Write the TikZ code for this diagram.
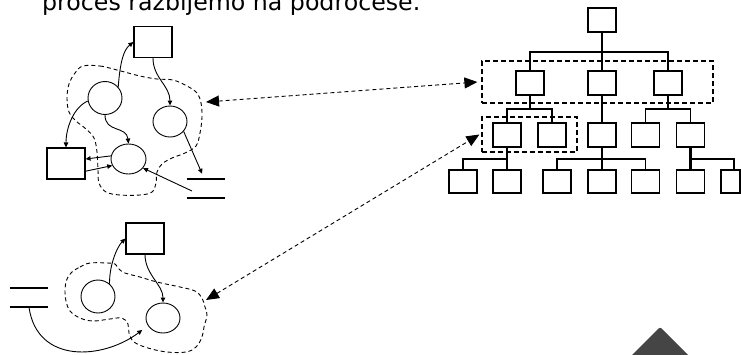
\documentclass[tikz,border=0pt]{standalone}
\usepackage{graphicx}
\usepackage{fontspec}
\setmainfont{DejaVu Sans}
\usetikzlibrary{shapes.geometric,arrows.meta,calc}
\definecolor{tri}{HTML}{454545}
\begin{document}
\begin{tikzpicture}[x=1pt,y=-1pt,
  sbox/.style={draw,line width=1.1pt,minimum width=38pt,minimum height=31pt,inner sep=0pt},
  proc/.style={draw,ellipse,line width=0.9pt,minimum width=34pt,minimum height=31pt,inner sep=0pt},
  storenode/.style={minimum width=38pt,minimum height=19pt,inner sep=0pt},
  storeline/.style={line width=1.8pt},
  flow/.style={line width=0.9pt,-{Triangle[length=5pt,width=4.5pt]}},
  blob/.style={line width=0.9pt,dash pattern=on 4pt off 3pt},
  link/.style={line width=0.9pt,dash pattern=on 4pt off 3pt,{Triangle[length=13pt,width=11pt]}-{Triangle[length=13pt,width=11pt]}},
  hbox/.style={draw,line width=1.2pt,minimum width=28pt,minimum height=24pt,inner sep=0pt},
  bus/.style={line width=1.3pt},
  trunk/.style={line width=2.6pt},
  group/.style={draw,line width=1.2pt,dash pattern=on 5pt off 3pt,inner sep=0pt}
]
\useasboundingbox (0,0) rectangle (741,354);
\clip (0,0) rectangle (741,354);

% title
\node[anchor=base west,inner sep=0pt] (title) at (42,10) {\resizebox{378pt}{!}{proces razbijemo na podrocese.}};

% ---------- upper left diagram ----------
\node[sbox] (tb) at (153,42) {};
\node[sbox] (lb) at (66,163.5) {};
\node[proc,minimum height=33pt] (A) at (105,98) {};
\node[proc] (B) at (170,121.5) {};
\node[proc,minimum width=35pt,minimum height=30pt] (C) at (128.5,159) {};
\node[storenode] (st1) at (206,188.5) {};
\draw[storeline] (st1.north west) -- (st1.north east) (st1.south west) -- (st1.south east);

\draw[flow] (A.40) .. controls +(2,-25) and +(-10,8) .. (tb.west);
\draw[flow] (tb.south) .. controls +(0,20) and +(0,-20) .. (B.north);
\draw[flow] (A.190) .. controls +(-14,6) and +(0,-20) .. (lb.north);
\draw[flow] (A.south) .. controls +(0,18) and +(-2,-18) .. (C.north);
\draw[flow] (C.170) -- ($(lb.north east)!0.36!(lb.south east)$);
\draw[flow] ($(lb.north east)!0.74!(lb.south east)$) -- (C.202);
\coordinate (st1in) at (192,191);
\draw[flow] (st1in) -- (C.-32);
\draw[flow] (B.-36) -- ($(st1.north west)!0.4!(st1.north east)+(0,-5)$);

\draw[blob] plot[smooth cycle,tension=0.6] coordinates {
 (83,66) (100,66) (117,70) (140,76) (157,79) (173,80) (187,86) (197,93)
 (201,103) (202,117) (200,133) (196,146) (185,153) (172,158) (162,164)
 (157,172) (156,183) (152,192) (140,195) (120,195) (106,192) (99,183)
 (98,170) (97,152) (94,138) (86,129) (76,121) (69,112) (67,98) (69,84) (75,73)};

% ---------- lower left diagram ----------
\node[sbox] (tb2) at (145,238.5) {};
\node[proc,minimum height=33pt] (D) at (98,296.5) {};
\node[proc,minimum height=30pt] (E) at (163,318) {};
\node[storenode] (st2) at (29,297.5) {};
\draw[storeline] (st2.north west) -- (st2.north east) (st2.south west) -- (st2.south east);

\draw[flow] (D.48) .. controls +(0,-20) and +(-8,8) .. (tb2.west);
\draw[flow] (tb2.south) .. controls +(0,20) and +(0,-18) .. (E.north);
\draw[flow,shorten >=7pt] (st2.south) .. controls +(8,57) and +(-45,34) .. (E.207);

\draw[blob] plot[smooth cycle,tension=0.6] coordinates {
 (72,272) (80,267) (90,263) (107,263) (115,264) (119,269) (125,273)
 (140,277) (157,282) (180,287) (195,291) (202,298) (205,307) (207,315)
 (204,327) (202,337) (196,347) (186,352) (167,352) (148,348) (134,342)
 (129,333) (128,324) (122,318) (110,319) (93,321) (80,318) (70,311)
 (66,301) (65,289) (67,279)};

% ---------- hierarchy ----------
\node[hbox] (r) at (602,20) {};
\node[hbox] (h1) at (530,83) {};
\node[hbox] (h2) at (602,83) {};
\node[hbox] (h3) at (668,83) {};
\node[hbox] (h11) at (507,135) {};
\node[hbox] (h12) at (552,135) {};
\node[hbox] (h21) at (602,135) {};
\node[hbox] (h31) at (645.5,135) {};
\node[hbox] (h32) at (690.5,135) {};
\node[hbox,minimum height=23pt] (h111) at (463,181.5) {};
\node[hbox,minimum height=23pt] (h112) at (507,181.5) {};
\node[hbox,minimum height=23pt] (h211) at (557,181.5) {};
\node[hbox,minimum height=23pt] (h212) at (602,181.5) {};
\node[hbox,minimum height=23pt] (h213) at (645.5,181.5) {};
\node[hbox,minimum height=23pt] (h321) at (690.5,181.5) {};
\node[hbox,minimum height=23pt,minimum width=19pt] (h322) at (730.5,181.5) {};

\coordinate (y1) at (0,52);
\coordinate (y2) at (0,109);
\coordinate (y3) at (0,159);

\draw[trunk] (r.south) -- (h2.north);
\draw[bus] (h1.north) -- (h1.north |- y1) -- (h3.north |- y1) -- (h3.north);
\draw[line width=2pt] (h1.south) -- (h1.south |- y2);
\draw[bus] (h11.north) -- (h11.north |- y2) -- (h12.north |- y2) -- (h12.north);
\draw[trunk] (h2.south) -- (h21.north);
\draw[line width=1.8pt] (h3.south) -- (h3.south |- y2);
\draw[bus] (h31.north) |- (h32.north |- y2) -- (h32.north);
\draw[bus] (h11.south) -- (h112.north);
\draw[bus] (h111.north) |- (h11.south |- y3);
\draw[trunk] (h21.south) -- (h212.north);
\draw[bus] (h211.north) |- (h213.north |- y3) -- (h213.north);
\draw[trunk] (h32.south) -- (h321.north);
\draw[bus] (h32.south |- y3) -| ([xshift=3.5pt]h322.north);

\node[group,minimum width=231pt,minimum height=42pt] (G1) at (597.5,82) {};
\node[group,minimum width=95pt,minimum height=35pt] (G2) at (529.5,134.5) {};

\coordinate (bl1) at (206,102);
\coordinate (bl2) at (206,300);
\draw[link] (bl1) -- ([xshift=-4pt]G1.west);
\draw[link] (bl2) -- ([xshift=-2pt]G2.west);

% corner triangle
\fill[tri,rounded corners=2pt] (660,327) -- (695,362) -- (625,362) -- cycle;
\end{tikzpicture}
\end{document}
